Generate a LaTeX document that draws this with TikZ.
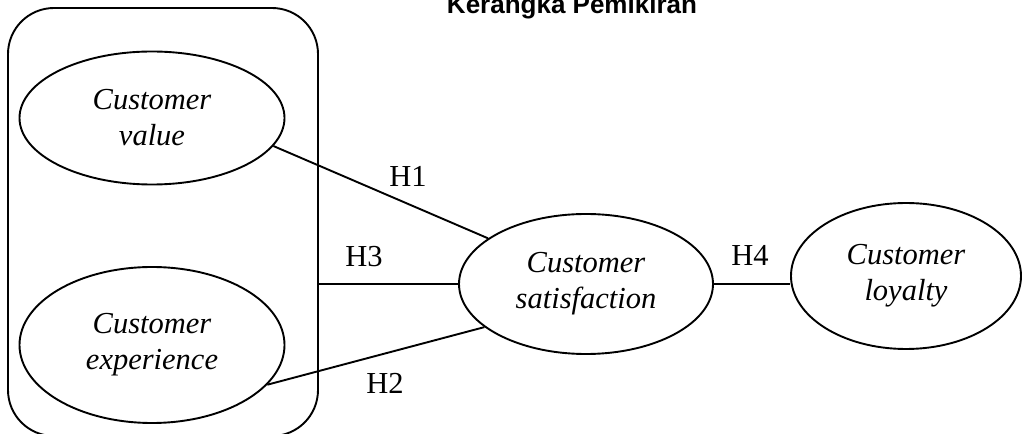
\documentclass[tikz,border=0pt]{standalone}
\usepackage{fontspec}
\setmainfont{Liberation Serif}
\newfontfamily\titlefont{Liberation Sans}
\usetikzlibrary{shapes.geometric}
\tikzset{
  x=1bp, y=-1bp,
  var/.style={draw, ellipse, inner sep=0pt, align=center, line width=1.9bp,
    font=\fontsize{30.5bp}{36bp}\selectfont\itshape},
  hyp/.style={inner sep=0pt, font=\fontsize{30.5bp}{36bp}\selectfont},
  link/.style={draw, line width=1.9bp},
}
\begin{document}
\begin{tikzpicture}
\useasboundingbox (0,0) rectangle (1025,434);
\clip (0,0) rectangle (1025,434);
\node[inner sep=0pt, anchor=base, font=\titlefont\fontsize{26bp}{30bp}\selectfont\bfseries] (title) at (572,14) {Kerangka Pemikiran};
\node[draw, rectangle, rounded corners=46bp, minimum width=310bp, minimum height=428bp, inner sep=0pt, line width=1.9bp] (box) at (163,222) {};
\node[var, minimum width=265bp, minimum height=133bp] (val) at (152,118) {Customer\\value};
\node[var, minimum width=265bp, minimum height=156bp] (exp) at (152,345) {Customer\\experience};
\node[var, minimum width=254bp, minimum height=140bp] (sat) at (586,284) {Customer\\satisfaction};
\node[var, minimum width=230bp, minimum height=146bp] (loy) at (906,276) {Customer\\loyalty};
\draw[link] (val.-13.6) -- (sat.155.6);
\draw[link] (exp.-19.2) -- (sat.-157.3);
\draw[link] (box.east |- sat.west) -- (sat.west);
\draw[link] (sat.east) -- (sat.east -| loy.west);
\node[hyp] (h1) at (408,176) {H1};
\node[hyp] (h3) at (364,257) {H3};
\node[hyp] (h2) at (385,383) {H2};
\node[hyp] (h4) at (750,255) {H4};
\end{tikzpicture}
\end{document}
